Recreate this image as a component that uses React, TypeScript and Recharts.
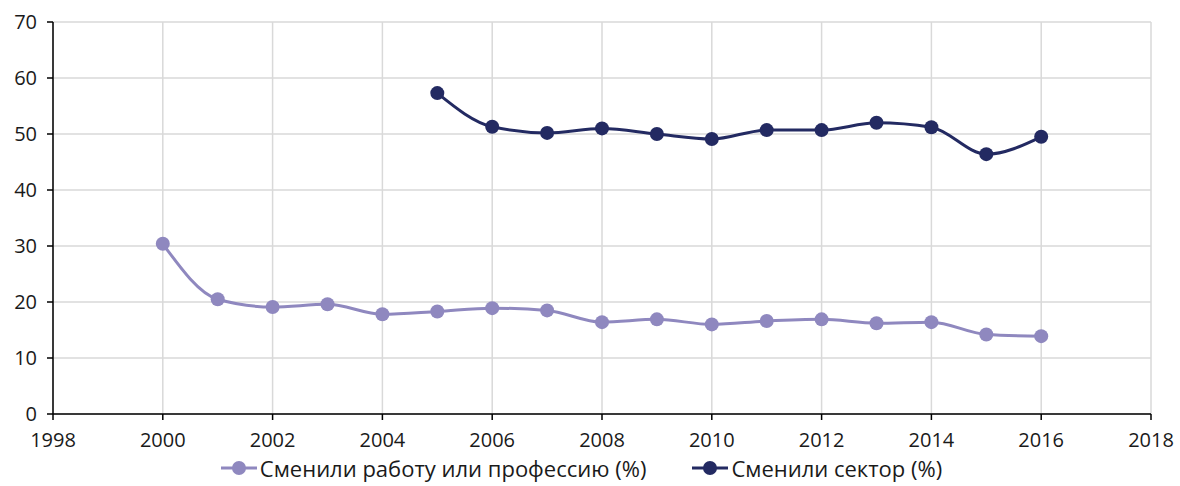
import React from 'react'
import {
  LineChart,
  Line,
  XAxis,
  YAxis,
  CartesianGrid,
  Legend,
} from 'recharts'

// Survey years and the two series (percent)
const years = [2000, 2001, 2002, 2003, 2004, 2005, 2006, 2007, 2008, 2009, 2010, 2011, 2012, 2013, 2014, 2015, 2016]
const changedJob = [30.4, 20.5, 19.1, 19.6, 17.8, 18.3, 18.9, 18.5, 16.4, 16.9, 16.0, 16.6, 16.9, 16.2, 16.4, 14.2, 13.9]
const changedSector = [null, null, null, null, null, 57.3, 51.3, 50.2, 51.0, 50.0, 49.1, 50.7, 50.7, 52.0, 51.2, 46.4, 49.5]

const xTicks = [1998, 2000, 2002, 2004, 2006, 2008, 2010, 2012, 2014, 2016, 2018]
const yTicks = [0, 10, 20, 30, 40, 50, 60, 70]

const SERIES = [
  { key: 'job', name: 'Сменили работу или профессию (%)', color: '#8f88bf' },
  { key: 'sector', name: 'Сменили сектор (%)', color: '#232a62' },
]

const data = years.map((year, i) => ({
  year,
  job: changedJob[i],
  sector: changedSector[i],
}))

const FONT = '"Open Sans", "Noto Sans", sans-serif'

const CustomLegend = () => (
  <div
    style={{
      display: 'flex',
      justifyContent: 'center',
      gap: 46,
      fontFamily: FONT,
      fontSize: 22,
      color: '#1a1a1a',
      paddingLeft: 12,
      lineHeight: '28px',
    }}
  >
    {SERIES.map((s) => (
      <div key={s.key} style={{ display: 'flex', alignItems: 'center', gap: 3 }}>
        <svg width={36} height={16}>
          <line x1={0} y1={8} x2={36} y2={8} stroke={s.color} strokeWidth={3} />
          <circle cx={18} cy={8} r={7} fill={s.color} />
        </svg>
        <span>{s.name}</span>
      </div>
    ))}
  </div>
)

export default function App() {
  return (
    <div style={{ position: 'absolute', left: 0, top: 0, width: 1180, height: 486, background: '#fff' }}>
      <LineChart
        width={1180}
        height={486}
        data={data}
        margin={{ top: 22, right: 29, left: 0, bottom: 0 }}
      >
        <CartesianGrid stroke="#d9d9d9" strokeWidth={1.5} />
        <XAxis
          dataKey="year"
          type="number"
          domain={[1998, 2018]}
          ticks={xTicks}
          interval={0}
          height={40}
          stroke="#000"
          strokeWidth={1.5}
          tickSize={6}
          tick={{ fill: '#1a1a1a', fontSize: 20, fontFamily: FONT }}
          tickMargin={13}
        />
        <YAxis
          type="number"
          domain={[0, 70]}
          ticks={yTicks}
          interval={0}
          width={53}
          stroke="#000"
          strokeWidth={1.5}
          tickSize={6}
          tick={{ fill: '#1a1a1a', fontSize: 20, fontFamily: FONT }}
          tickMargin={10}
        />
        <Legend verticalAlign="bottom" height={32} content={<CustomLegend />} />
        {SERIES.map((s) => (
          <Line
            key={s.key}
            dataKey={s.key}
            name={s.name}
            type="monotone"
            stroke={s.color}
            strokeWidth={3}
            dot={{ r: 7, fill: s.color, stroke: s.color, strokeWidth: 0 }}
            activeDot={false}
            isAnimationActive={false}
          />
        ))}
      </LineChart>
    </div>
  )
}
